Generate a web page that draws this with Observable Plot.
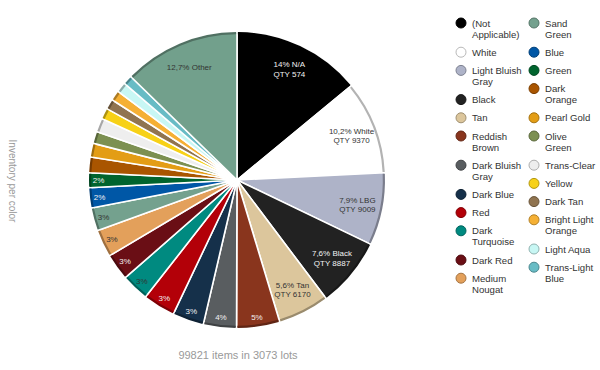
<!DOCTYPE html>
<html><head><meta charset="utf-8">
<script src="https://cdn.jsdelivr.net/npm/d3@7"></script>
<script src="https://cdn.jsdelivr.net/npm/@observablehq/plot@0.6"></script>
<style>
html,body{margin:0;padding:0;background:#fff;}
#chart{width:600px;height:370px;position:relative;}
</style></head><body><div id="chart"></div>
<script>
// ---- data ----
const colorNames = ["(Not Applicable)","White","Light Bluish Gray","Black","Tan","Reddish Brown","Dark Bluish Gray","Dark Blue","Red","Dark Turquoise","Dark Red","Medium Nougat","Sand Green","Blue","Green","Dark Orange","Pearl Gold","Olive Green","Trans-Clear","Yellow","Dark Tan","Bright Light Orange","Light Aqua","Trans-Light Blue","Other"];
const shares = [14.0,10.2,7.9,7.6,5.6,4.7,3.6,3.4,3.5,3.0,2.9,3.0,2.5,2.2,1.6,1.7,1.5,1.3,1.5,1.2,1.1,1.1,1.1,1.0,12.7];
const colorHex = ["#000000","#ffffff","#aeb3c8","#222222","#dcc69c","#89351d","#595d60","#15304a","#b30008","#008a80","#6a0e15","#e3a05b","#74a18e","#0057a6","#00642e","#a95500","#e39d15","#7c9051","#eeeeee","#f7d117","#907450","#f5b034","#c8f7f4","#68bcc5","#72a08c"];
const sliceLabels = ["14% N/A\nQTY 574","10,2% White\nQTY 9370","7,9% LBG\nQTY 9009","7,6% Black\nQTY 8887","5,6% Tan\nQTY 6170","5%","4%","3%","3%","3%","3%","3%","3%","2%","2%","","","","","","","","","","12,7% Other"];
const legendLabels = ["(Not\nApplicable)","White","Light Bluish\nGray","Black","Tan","Reddish\nBrown","Dark Bluish\nGray","Dark Blue","Red","Dark\nTurquoise","Dark Red","Medium\nNougat","Sand\nGreen","Blue","Green","Dark\nOrange","Pearl Gold","Olive\nGreen","Trans-Clear","Yellow","Dark Tan","Bright Light\nOrange","Light Aqua","Trans-Light\nBlue"];
const axisTitle = "Inventory per color";
const caption = "99821 items in 3073 lots";

// ---- layout ----
const W = 600, H = 370;
const cx = 237, cy = 180, R = 148;
const font = "'Liberation Sans', Arial, sans-serif";

const data = colorNames.map((name, i) => ({name, share: shares[i], color: colorHex[i], label: sliceLabels[i]}));

function pieMark(index, scales, values, dimensions) {
  const g = d3.create("svg:g").attr("transform", `translate(${cx},${cy})`);
  const arcs = d3.pie().sort(null).value(d => d.share)(data);
  const arc = d3.arc().innerRadius(0).outerRadius(R);
  const rim = d3.arc().innerRadius(R - 2.2).outerRadius(R);
  g.selectAll("path.s").data(arcs).join("path")
    .attr("d", arc).attr("fill", d => d.data.color)
    .attr("stroke", "#fff").attr("stroke-width", 1.6).attr("stroke-linejoin", "round");
  g.selectAll("path.r").data(arcs).join("path")
    .attr("d", d => rim({...d, startAngle: d.startAngle + 0.006, endAngle: d.endAngle - 0.006}))
    .attr("fill", d => d3.color(d.data.color).darker(1).formatHex());
  const lab = g.selectAll("text").data(arcs.filter(d => d.data.label)).join("text")
    .attr("font-family", font).attr("font-size", 8)
    .attr("text-anchor", "middle")
    .attr("fill", d => d3.lab(d.data.color).l > 48 ? "#333" : "#f2f2f2")
    .attr("transform", d => {
      const big = d.data.share > 5;
      const r = big ? R * 0.83 : R * 0.935;
      const a = (d.startAngle + d.endAngle) / 2;
      return `translate(${r * Math.sin(a)},${-r * Math.cos(a)})`;
    });
  lab.each(function(d) {
    const lines = d.data.label.split("\n");
    const t = d3.select(this);
    lines.forEach((ln, k) => t.append("tspan").attr("x", 0)
      .attr("y", (k - (lines.length - 1) / 2) * 9.5 + 3).text(ln));
  });
  return g.node();
}

function legendMark() {
  const g = d3.create("svg:g");
  const cols = [{tx: 472, items: legendLabels.slice(0, 12), off: 0}, {tx: 545, items: legendLabels.slice(12), off: 12}];
  cols.forEach(col => {
    let y = 23;
    col.items.forEach((lbl, k) => {
      const c = colorHex[col.off + k];
      const lines = lbl.split("\n");
      g.append("circle").attr("cx", col.tx - 11).attr("cy", y).attr("r", 5)
        .attr("fill", c).attr("stroke", d3.color(c).darker(0.9).formatHex()).attr("stroke-width", 1);
      const t = g.append("text").attr("font-family", font).attr("font-size", 9.6)
        .attr("fill", "#333").attr("text-anchor", "start");
      lines.forEach((ln, j) => t.append("tspan").attr("x", col.tx).attr("y", y + 3.5 + j * 11).text(ln));
      y += 18.2 + (lines.length - 1) * 11;
    });
  });
  return g.node();
}

function textMark() {
  const g = d3.create("svg:g").attr("font-family", font).attr("fill", "#999");
  g.append("text").attr("font-size", 10).attr("text-anchor", "middle")
    .attr("transform", `translate(9,181) rotate(90)`).text(axisTitle);
  g.append("text").attr("font-size", 11).attr("text-anchor", "middle")
    .attr("x", cx + 1).attr("y", 359).text(caption);
  return g.node();
}

const chart = Plot.plot({
  width: W, height: H, margin: 0,
  style: {background: "#fff", overflow: "visible"},
  marks: [pieMark, legendMark, textMark]
});
document.getElementById("chart").appendChild(chart);
</script>
</body></html>
